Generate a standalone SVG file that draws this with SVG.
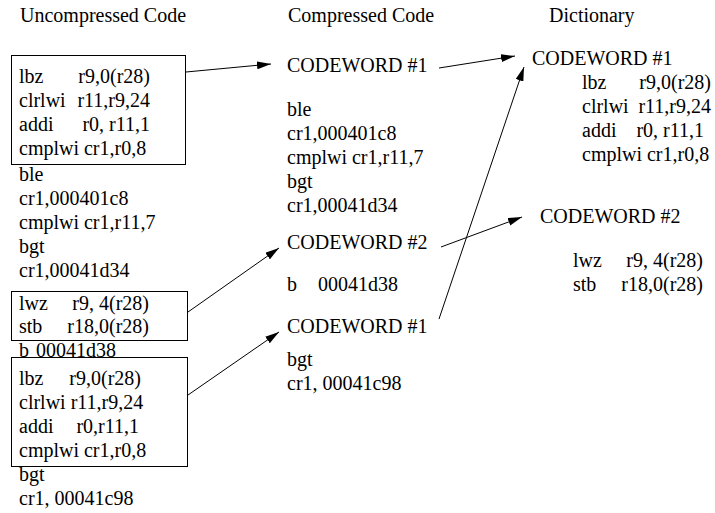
<svg xmlns="http://www.w3.org/2000/svg" width="715" height="513" viewBox="0 0 715 513">
<style>
text{font-family:"Liberation Serif","Times New Roman",serif;font-size:20px;fill:#000}
.e{text-anchor:end}
.box{fill:none;stroke:#000;stroke-width:1}
.conn line{stroke:#000;stroke-width:1}
</style>
<defs>
<marker id="ah" markerWidth="14" markerHeight="8" refX="14" refY="4" orient="auto" markerUnits="userSpaceOnUse">
<path d="M0,0 L14,4 L0,8 z" fill="#000"/>
</marker>
</defs>
<rect width="715" height="513" fill="#fff"/>
<g id="headings">
<text x="20" y="22">Uncompressed Code</text>
<text x="288" y="22">Compressed Code</text>
<text x="549" y="22">Dictionary</text>
</g>
<g id="uncompressed">
<rect class="box" x="11.5" y="55.5" width="174" height="109"/>
<text x="19" y="83">lbz</text><text class="e" x="150" y="83">r9,0(r28)</text>
<text x="19" y="107">clrlwi</text><text class="e" x="150" y="107">r11,r9,24</text>
<text x="19" y="131">addi</text><text class="e" x="150" y="131">r0, r11,1</text>
<text x="19" y="155">cmplwi cr1,r0,8</text>
<text x="19" y="181">ble</text>
<text x="19" y="205">cr1,000401c8</text>
<text x="19" y="229">cmplwi cr1,r11,7</text>
<text x="19" y="253">bgt</text>
<text x="19" y="277">cr1,00041d34</text>
<rect class="box" x="11.5" y="291.5" width="176" height="49"/>
<text x="19" y="310">lwz</text><text class="e" x="149" y="310">r9, 4(r28)</text>
<text x="19" y="333">stb</text><text class="e" x="149" y="333">r18,0(r28)</text>
<text x="19" y="357">b<tspan x="36">00041d38</tspan></text>
<rect class="box" x="11.5" y="357.5" width="176" height="109"/>
<text x="19" y="385">lbz</text><text class="e" x="141" y="385">r9,0(r28)</text>
<text x="19" y="409">clrlwi r11,r9,24</text>
<text x="19" y="433">addi</text><text class="e" x="139" y="433">r0,r11,1</text>
<text x="19" y="457">cmplwi cr1,r0,8</text>
<text x="19" y="481">bgt</text>
<text x="19" y="505">cr1, 00041c98</text>
</g>
<g id="compressed">
<text x="287" y="72">CODEWORD #1</text>
<text x="287" y="116">ble</text>
<text x="287" y="140">cr1,000401c8</text>
<text x="287" y="164">cmplwi cr1,r11,7</text>
<text x="287" y="188">bgt</text>
<text x="287" y="212">cr1,00041d34</text>
<text x="287" y="249">CODEWORD #2</text>
<text x="287" y="291">b<tspan x="318">00041d38</tspan></text>
<text x="287" y="333">CODEWORD #1</text>
<text x="287" y="366">bgt</text>
<text x="287" y="390">cr1, 00041c98</text>
</g>
<g id="dict-cw1">
<text x="532" y="65">CODEWORD #1</text>
<text x="582" y="89">lbz</text><text class="e" x="711" y="89">r9,0(r28)</text>
<text x="582" y="113">clrlwi</text><text class="e" x="711" y="113">r11,r9,24</text>
<text x="582" y="137">addi</text><text class="e" x="704" y="137">r0, r11,1</text>
<text x="582" y="161">cmplwi cr1,r0,8</text>
</g>
<g id="dict-cw2">
<text x="540" y="223">CODEWORD #2</text>
<text x="573" y="267">lwz</text><text class="e" x="703" y="267">r9, 4(r28)</text>
<text x="573" y="291">stb</text><text class="e" x="703" y="291">r18,0(r28)</text>
</g>
<g id="connectors" class="conn">
<line x1="186" y1="72" x2="271" y2="64" marker-end="url(#ah)"/>
<line x1="188" y1="312" x2="279" y2="248" marker-end="url(#ah)"/>
<line x1="188" y1="395" x2="279" y2="332" marker-end="url(#ah)"/>
<line x1="439" y1="68" x2="515" y2="56" marker-end="url(#ah)"/>
<line x1="441" y1="247" x2="522" y2="217" marker-end="url(#ah)"/>
<line x1="439" y1="319" x2="524" y2="67" marker-end="url(#ah)"/>
</g>
</svg>
